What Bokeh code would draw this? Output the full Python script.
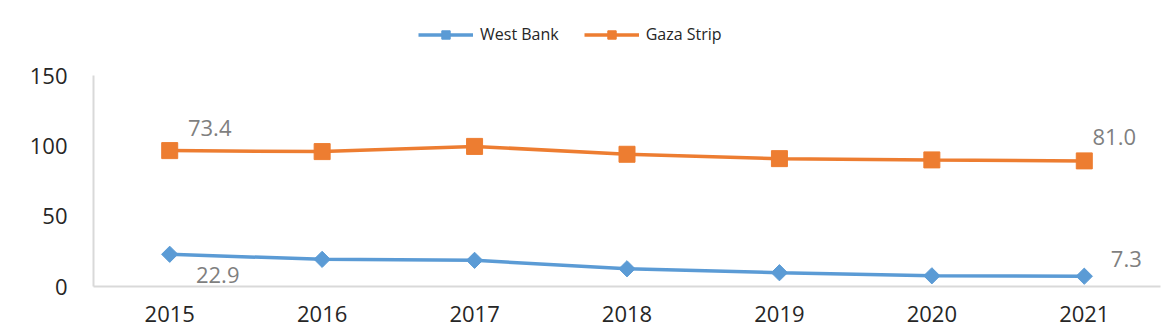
import math
from bokeh.plotting import figure
from bokeh.models import FactorRange, Range1d, Legend, LegendItem, Label, ColumnDataSource
from bokeh.embed import file_html
from bokeh.resources import INLINE

years = ["2015", "2016", "2017", "2018", "2019", "2020", "2021"]
west_bank = [22.9, 19.3, 18.6, 12.6, 9.8, 7.6, 7.3]
gaza_strip = [96.6, 95.9, 99.6, 94.0, 90.9, 90.0, 89.3]
y_ticks = [0, 50, 100, 150]
# data labels as they appear on the chart: (series, year index, text)
label_texts = [("gaza", 0, "73.4"), ("wb", 0, "22.9"), ("gaza", 6, "81.0"), ("wb", 6, "7.3")]

BLUE = "#5B9BD5"
ORANGE = "#ED7D31"
FONT = "Open Sans"

# frame spans pixel rows 10..286; value 150 sits at row 75
FRAME_TOP, ZERO_ROW, TOP_TICK_ROW = 10, 286, 75
y_axis_max = 150
y_end = y_axis_max * (ZERO_ROW - FRAME_TOP) / (ZERO_ROW - TOP_TICK_ROW)

p = figure(width=1166, height=332, output_backend="svg", toolbar_location=None,
           x_range=FactorRange(*years, range_padding=0), y_range=Range1d(0, y_end),
           min_border_left=93, min_border_right=6, min_border_top=FRAME_TOP,
           min_border_bottom=332 - ZERO_ROW)
p.outline_line_color = None
p.xgrid.visible = False
p.ygrid.visible = False
p.background_fill_color = "white"
p.border_fill_color = "white"

for ax in (p.xaxis[0], p.yaxis[0]):
    ax.axis_line_color = "#D9D9D9"
    ax.axis_line_width = 2
    ax.major_tick_line_color = None
    ax.minor_tick_line_color = None
    ax.major_label_text_font = FONT
    ax.major_label_text_font_size = "22px"
    ax.major_label_text_color = "#262626"
p.yaxis[0].ticker = y_ticks
p.yaxis[0].bounds = (0, y_axis_max)
p.yaxis[0].major_label_standoff = 20
p.xaxis[0].major_label_standoff = 13

src = ColumnDataSource(dict(year=years, wb=west_bank, gaza=gaza_strip))

l_wb = p.line("year", "wb", source=src, line_color=BLUE, line_width=3.5)
m_wb = p.scatter("year", "wb", source=src, marker="square", angle=math.pi / 4, size=11.5,
                 fill_color=BLUE, line_color=BLUE)
l_gz = p.line("year", "gaza", source=src, line_color=ORANGE, line_width=3.5)
m_gz = p.scatter("year", "gaza", source=src, marker="square", size=16,
                 fill_color=ORANGE, line_color=ORANGE)

offsets = {(0, "gaza"): (40, 23), (0, "wb"): (48, -21), (6, "gaza"): (30, 24), (6, "wb"): (42, 17)}
for series, idx, txt in label_texts:
    val = gaza_strip[idx] if series == "gaza" else west_bank[idx]
    dx, dy = offsets[(idx, series)]
    p.add_layout(Label(x=idx + 0.5, y=val, x_units="data", y_units="data", text=txt,
                       x_offset=dx, y_offset=dy, text_align="center", text_baseline="middle",
                       text_font=FONT, text_font_size="22px", text_color="#7F7F7F"))

legend = Legend(items=[LegendItem(label="West Bank", renderers=[l_wb, m_wb]),
                       LegendItem(label="Gaza Strip", renderers=[l_gz, m_gz])],
                orientation="horizontal", location=(325, ZERO_ROW - 45),
                padding=0, margin=0, spacing=25, glyph_width=55, glyph_height=21,
                label_height=21, label_standoff=7,
                label_text_font=FONT, label_text_font_size="16px", label_text_color="#262626",
                border_line_color=None, background_fill_alpha=0)
p.add_layout(legend)

open("out.html", "w").write(file_html(p, INLINE))
